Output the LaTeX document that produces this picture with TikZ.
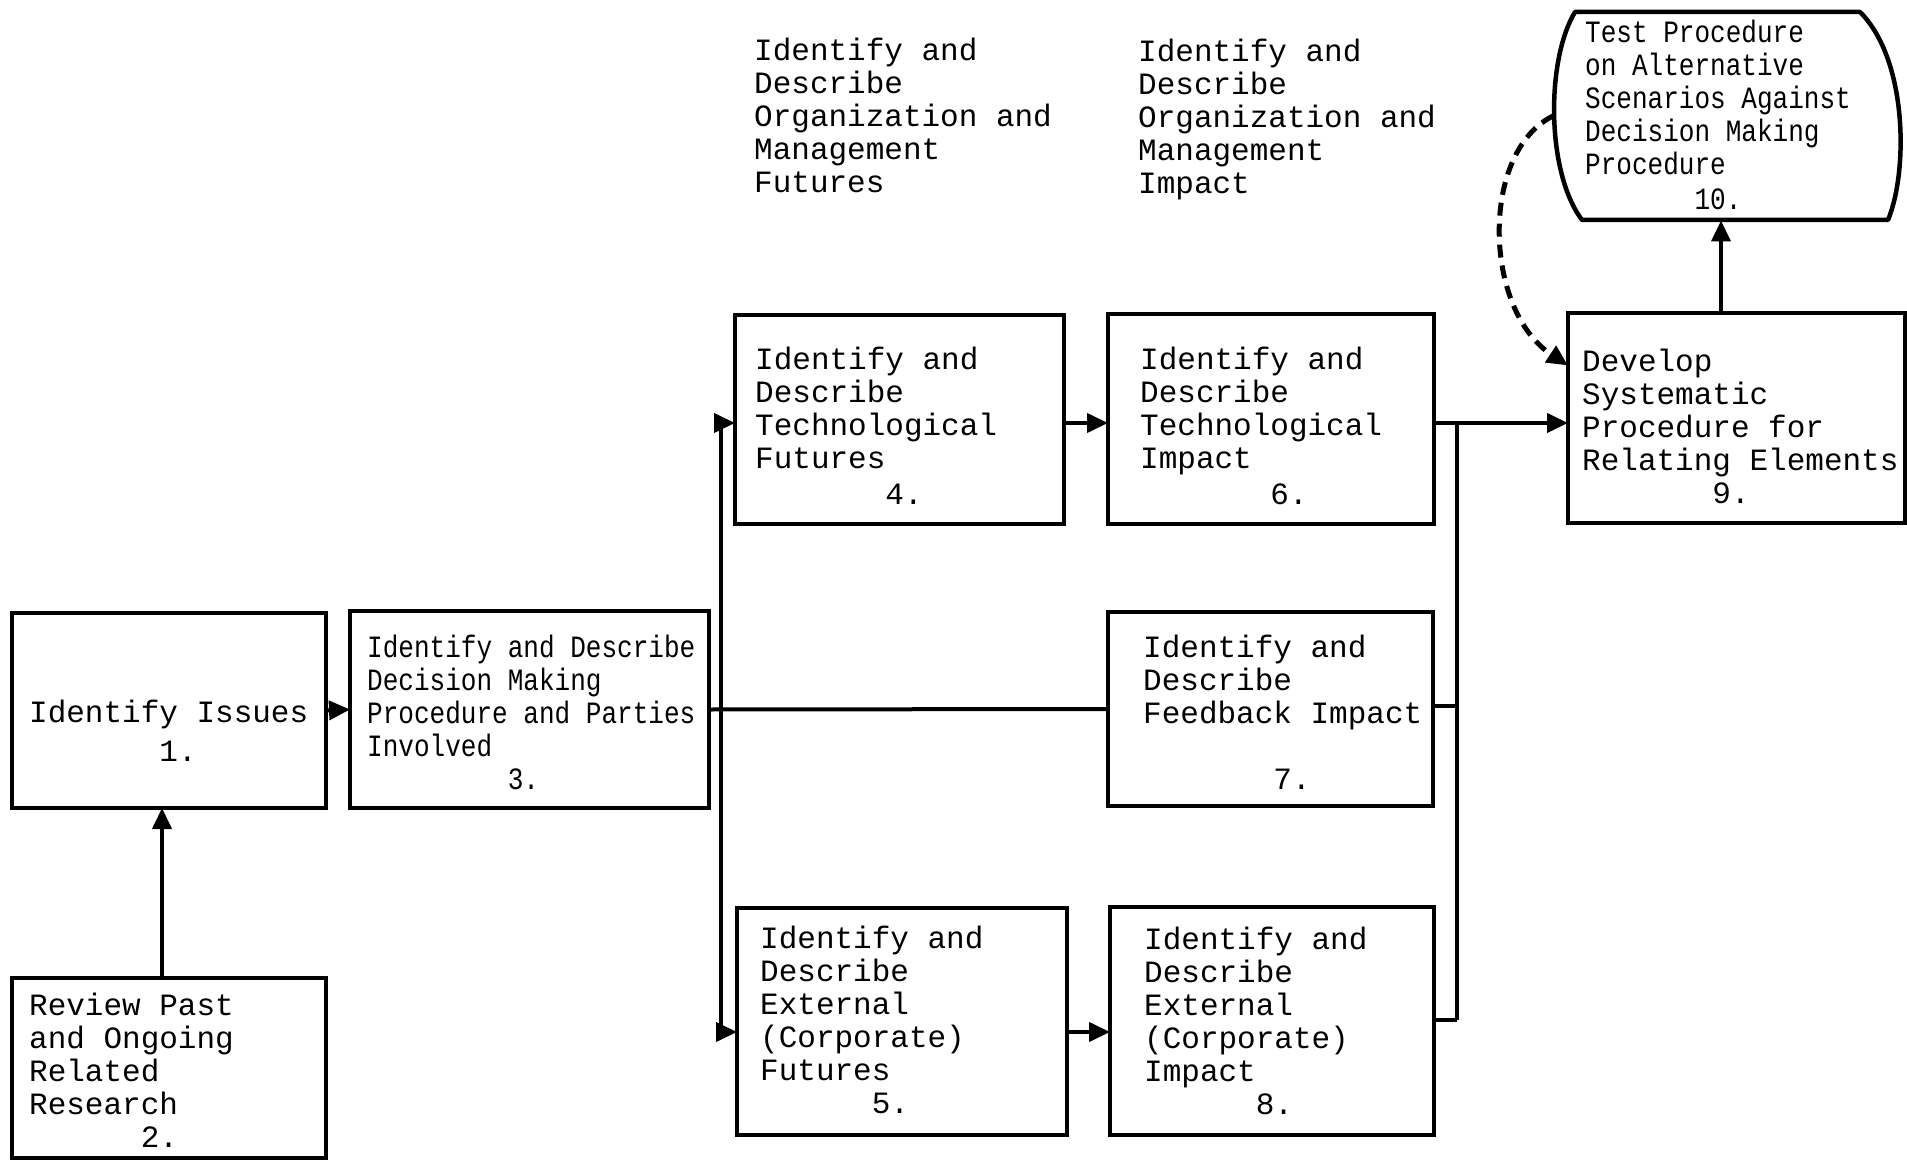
\documentclass[tikz,border=0pt]{standalone}
\usepackage{fontspec}
\newfontfamily\twfont{Liberation Mono}
\newfontfamily\twnfont[FakeStretch=0.84]{Liberation Mono}
\usetikzlibrary{arrows.meta,calc}
\begin{document}
\begin{tikzpicture}[x=1pt,y=-1pt,
  boxst/.style={draw, line width=4.5pt, inner sep=0pt, outer sep=0pt, rectangle},
  txt/.style={font=\twfont\fontsize{31}{33}\selectfont, align=left, inner sep=0pt, anchor=west},
  txtn/.style={font=\twnfont\fontsize{31}{33}\selectfont, align=left, inner sep=0pt, anchor=west},
  conn/.style={line width=4pt},
  arr/.style={conn, -{Triangle[length=21pt,width=19pt]}},
  dsh/.style={arr, line width=5pt, dash pattern=on 13pt off 8pt}]
\useasboundingbox (0,0) rectangle (1907,1161);

% boxes
\node[boxst, minimum width=314pt, minimum height=195pt] (b1) at (169,710.5) {};
\node[boxst, minimum width=314pt, minimum height=180pt] (b2) at (169,1068) {};
\node[boxst, minimum width=359pt, minimum height=197pt] (b3) at (529.5,709.5) {};
\node[boxst, minimum width=329pt, minimum height=209pt] (b4) at (899.5,419.5) {};
\node[boxst, minimum width=330pt, minimum height=227pt] (b5) at (902,1021.5) {};
\node[boxst, minimum width=326pt, minimum height=210pt] (b6) at (1271,419) {};
\node[boxst, minimum width=325pt, minimum height=194pt] (b7) at (1270.5,709) {};
\node[boxst, minimum width=324pt, minimum height=228pt] (b8) at (1272,1021) {};
\node[boxst, minimum width=337pt, minimum height=210pt] (b9) at (1736.5,418) {};
\node[inner sep=0pt, outer sep=0pt, minimum width=347pt, minimum height=209pt] (b10) at (1726.5,116) {};
\draw[line width=4.5pt, line join=round] (1575,12) -- (1860,12)
  .. controls (1908,60) and (1908,172) .. (1888,220) -- (1582,220)
  .. controls (1546,172) and (1546,60) .. cycle;

% texts
\node[txt] (t1) at (29,731) {Identify Issues\\[6pt]\phantom{0000000}1.};
\node[txt] (t2) at (29,1070) {Review Past\\and Ongoing\\Related\\Research\\\phantom{000000}2.};
\node[txtn] (t3) at (367,712) {Identify and Describe\\Decision Making\\Procedure and Parties\\Involved\\\phantom{000000000}3.};
\node[txt] (t4) at (755,426) {Identify and\\Describe\\Technological\\Futures\\[3pt]\phantom{0000000}4.};
\node[txt] (t5) at (760,1020) {Identify and\\Describe\\External\\(Corporate)\\Futures\\\phantom{000000}5.};
\node[txt] (t6) at (1140,426) {Identify and\\Describe\\Technological\\Impact\\[3pt]\phantom{0000000}6.};
\node[txt] (t7) at (1143,712) {Identify and\\Describe\\Feedback Impact\\[33pt]\phantom{0000000}7.};
\node[txt] (t8) at (1144,1021) {Identify and\\Describe\\External\\(Corporate)\\Impact\\\phantom{000000}8.};
\node[txt] (t9) at (1582,426) {Develop\\Systematic\\Procedure for\\Relating Elements\\\phantom{0000000}9.};
\node[txtn] (t10) at (1585,115) {Test Procedure\\on Alternative\\Scenarios Against\\Decision Making\\Procedure\\[2pt]\phantom{0000000}10.};
\node[txt] (tA) at (754,115) {Identify and\\Describe\\Organization and\\Management\\Futures};
\node[txt] (tB) at (1138,119) {Identify and\\Describe\\Organization and\\Management\\Impact};

% connectors
\coordinate (x2) at (162,0);
\draw[arr] (b2.north -| x2) -- (b1.south -| x2);
\draw[arr] (b1.east) -- (b3.west);
\coordinate (s4) at (721,423);
\coordinate (s5) at (721,1032);
\draw[conn] (s4) -- (s5);
\draw[conn] (b3.east) -- (b7.west);
\draw[arr] (s4) -- (s4 -| b4.west);
\draw[arr] (s5) -- (s5 -| b5.west);
\draw[arr] (s4 -| b4.east) -- (s4 -| b6.west);
\draw[arr] (s5 -| b5.east) -- (s5 -| b8.west);
\coordinate (r6) at (1457,423);
\coordinate (r7) at (1457,706);
\coordinate (r8) at (1457,1020);
\draw[conn] (r6) -- (r8);
\draw[conn] (r7 -| b7.east) -- (r7);
\draw[conn] (r8 -| b8.east) -- (r8);
\draw[arr] (r6 -| b6.east) -- (r6 -| b9.west);
\coordinate (x10) at (1721,0);
\draw[arr] (b9.north -| x10) -- (b10.south -| x10);
\coordinate (in9) at ($(b9.north west)!0.25!(b9.south west)$);
\draw[dsh] (b10.west) .. controls +(-73,36) and +(-85,-56) .. (in9);
\end{tikzpicture}
\end{document}
